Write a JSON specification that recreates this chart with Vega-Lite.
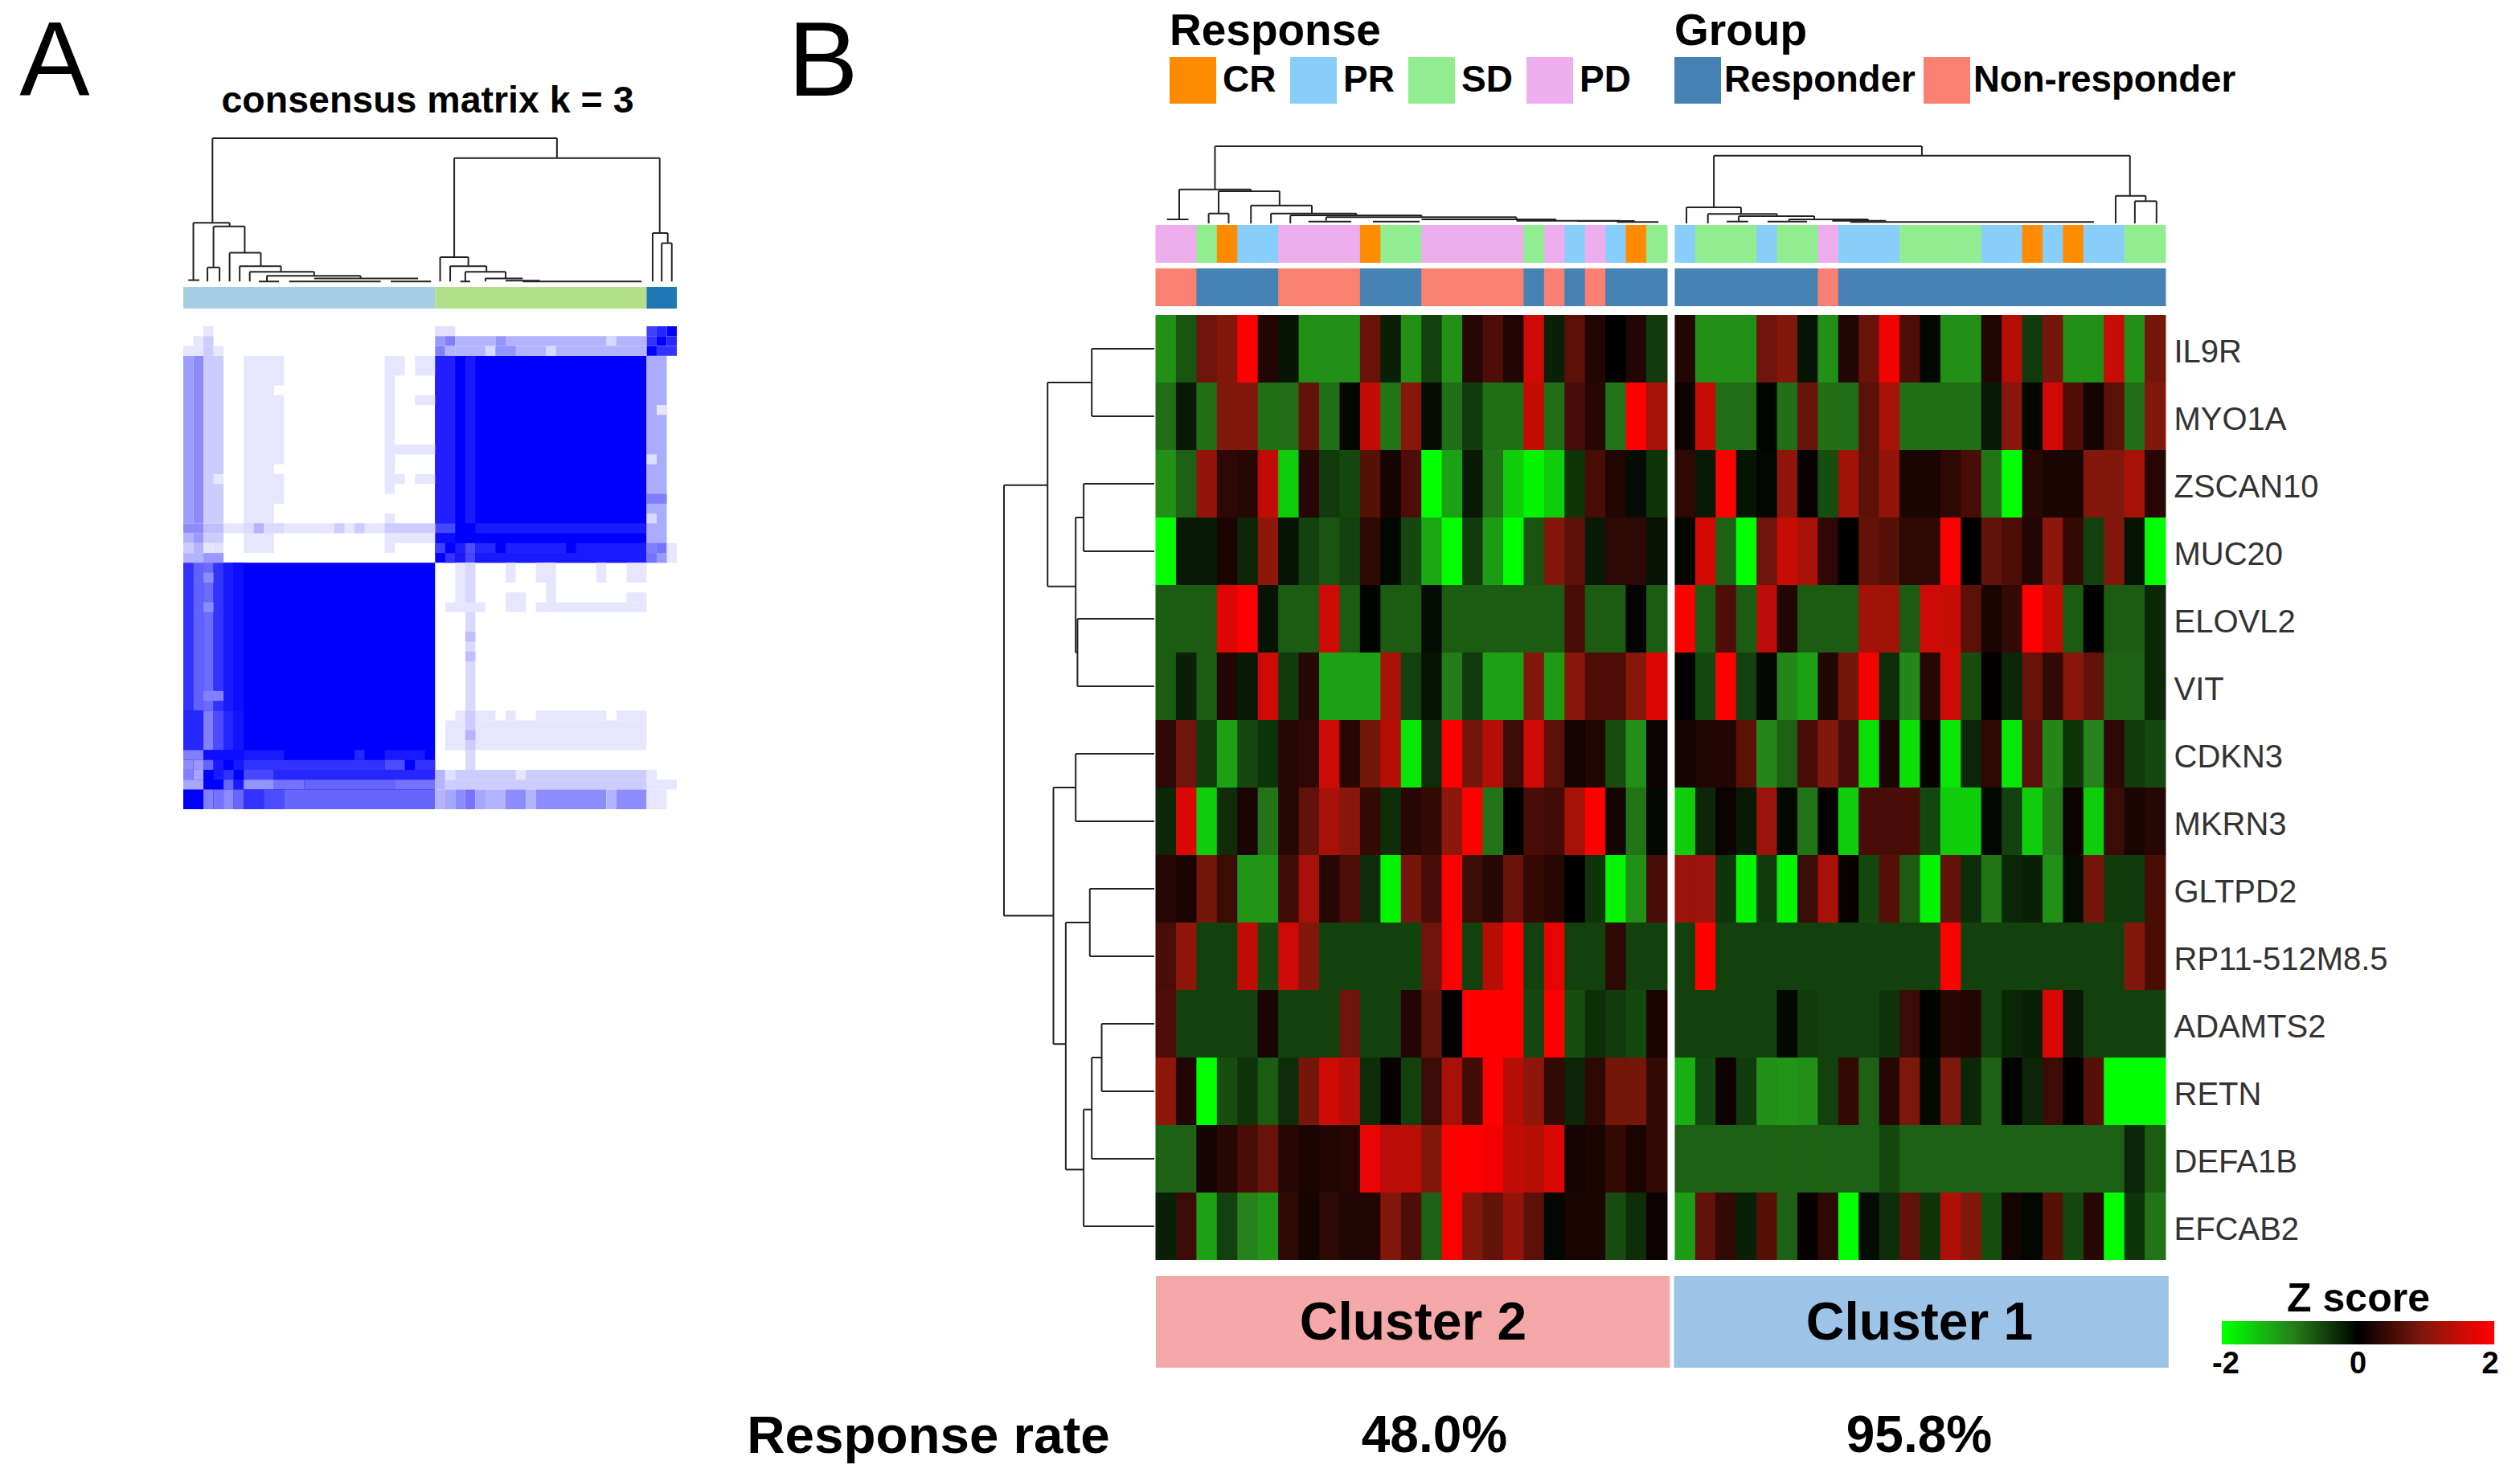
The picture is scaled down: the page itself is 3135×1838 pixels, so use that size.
{"$schema":"https://vega.github.io/schema/vega-lite/v6.json","width":3135,"height":1838,"padding":0,"autosize":{"type":"fit","contains":"padding"},"background":"white","config":{"view":{"stroke":null},"font":"Liberation Sans"},
"datasets":{
"heat":[
{"g":"IL9R","c":1,"z":-1.1},{"g":"IL9R","c":2,"z":-0.65},{"g":"IL9R","c":3,"z":0.85},{"g":"IL9R","c":4,"z":1},{"g":"IL9R","c":5,"z":2},{"g":"IL9R","c":6,"z":0.25},{"g":"IL9R","c":7,"z":-0.15},{"g":"IL9R","c":8,"z":-1.1},{"g":"IL9R","c":9,"z":-1.1},{"g":"IL9R","c":10,"z":-1.1},{"g":"IL9R","c":11,"z":0.8},{"g":"IL9R","c":12,"z":-0.25},{"g":"IL9R","c":13,"z":-1.1},{"g":"IL9R","c":14,"z":-0.5},{"g":"IL9R","c":15,"z":-1.1},{"g":"IL9R","c":16,"z":0.3},{"g":"IL9R","c":17,"z":0.6},{"g":"IL9R","c":18,"z":0.25},{"g":"IL9R","c":19,"z":1.6},{"g":"IL9R","c":20,"z":-0.25},{"g":"IL9R","c":21,"z":0.7},{"g":"IL9R","c":22,"z":0.25},{"g":"IL9R","c":23,"z":0},{"g":"IL9R","c":24,"z":0.25},{"g":"IL9R","c":25,"z":-0.45},
{"g":"IL9R","c":26,"z":0.25},{"g":"IL9R","c":27,"z":-1.1},{"g":"IL9R","c":28,"z":-1.1},{"g":"IL9R","c":29,"z":-1.1},{"g":"IL9R","c":30,"z":0.85},{"g":"IL9R","c":31,"z":1},{"g":"IL9R","c":32,"z":-0.15},{"g":"IL9R","c":33,"z":-1.1},{"g":"IL9R","c":34,"z":0.25},{"g":"IL9R","c":35,"z":0.8},{"g":"IL9R","c":36,"z":1.9},{"g":"IL9R","c":37,"z":0.6},{"g":"IL9R","c":38,"z":-0.05},{"g":"IL9R","c":39,"z":-1.1},{"g":"IL9R","c":40,"z":-1.1},{"g":"IL9R","c":41,"z":0.25},{"g":"IL9R","c":42,"z":1.4},{"g":"IL9R","c":43,"z":-0.45},{"g":"IL9R","c":44,"z":0.9},{"g":"IL9R","c":45,"z":-1.1},{"g":"IL9R","c":46,"z":-1.1},{"g":"IL9R","c":47,"z":1.55},{"g":"IL9R","c":48,"z":-1.1},{"g":"IL9R","c":49,"z":0.9},
{"g":"MYO1A","c":1,"z":-0.85},{"g":"MYO1A","c":2,"z":-0.2},{"g":"MYO1A","c":3,"z":-0.85},{"g":"MYO1A","c":4,"z":1},{"g":"MYO1A","c":5,"z":1},{"g":"MYO1A","c":6,"z":-0.85},{"g":"MYO1A","c":7,"z":-0.85},{"g":"MYO1A","c":8,"z":0.75},{"g":"MYO1A","c":9,"z":-0.85},{"g":"MYO1A","c":10,"z":-0.05},{"g":"MYO1A","c":11,"z":1.5},{"g":"MYO1A","c":12,"z":-0.9},{"g":"MYO1A","c":13,"z":1.05},{"g":"MYO1A","c":14,"z":-0.1},{"g":"MYO1A","c":15,"z":-0.85},{"g":"MYO1A","c":16,"z":-0.45},{"g":"MYO1A","c":17,"z":-0.85},{"g":"MYO1A","c":18,"z":-0.85},{"g":"MYO1A","c":19,"z":1.5},{"g":"MYO1A","c":20,"z":-0.85},{"g":"MYO1A","c":21,"z":0.55},{"g":"MYO1A","c":22,"z":0.3},{"g":"MYO1A","c":23,"z":-0.9},{"g":"MYO1A","c":24,"z":2},{"g":"MYO1A","c":25,"z":1.3},
{"g":"MYO1A","c":26,"z":0.1},{"g":"MYO1A","c":27,"z":1.55},{"g":"MYO1A","c":28,"z":-0.85},{"g":"MYO1A","c":29,"z":-0.85},{"g":"MYO1A","c":30,"z":-0.03},{"g":"MYO1A","c":31,"z":-0.85},{"g":"MYO1A","c":32,"z":0.8},{"g":"MYO1A","c":33,"z":-0.85},{"g":"MYO1A","c":34,"z":-0.85},{"g":"MYO1A","c":35,"z":0.7},{"g":"MYO1A","c":36,"z":1.3},{"g":"MYO1A","c":37,"z":-0.85},{"g":"MYO1A","c":38,"z":-0.85},{"g":"MYO1A","c":39,"z":-0.85},{"g":"MYO1A","c":40,"z":-0.85},{"g":"MYO1A","c":41,"z":-0.2},{"g":"MYO1A","c":42,"z":1.05},{"g":"MYO1A","c":43,"z":-0.05},{"g":"MYO1A","c":44,"z":1.6},{"g":"MYO1A","c":45,"z":0.6},{"g":"MYO1A","c":46,"z":0.15},{"g":"MYO1A","c":47,"z":0.7},{"g":"MYO1A","c":48,"z":-0.85},{"g":"MYO1A","c":49,"z":1},
{"g":"ZSCAN10","c":1,"z":-1.1},{"g":"ZSCAN10","c":2,"z":-0.75},{"g":"ZSCAN10","c":3,"z":1.15},{"g":"ZSCAN10","c":4,"z":0.35},{"g":"ZSCAN10","c":5,"z":0.3},{"g":"ZSCAN10","c":6,"z":1.5},{"g":"ZSCAN10","c":7,"z":-1.6},{"g":"ZSCAN10","c":8,"z":0.3},{"g":"ZSCAN10","c":9,"z":-0.45},{"g":"ZSCAN10","c":10,"z":-0.55},{"g":"ZSCAN10","c":11,"z":0.65},{"g":"ZSCAN10","c":12,"z":0.15},{"g":"ZSCAN10","c":13,"z":0.6},{"g":"ZSCAN10","c":14,"z":-2},{"g":"ZSCAN10","c":15,"z":-1.25},{"g":"ZSCAN10","c":16,"z":-0.2},{"g":"ZSCAN10","c":17,"z":-0.9},{"g":"ZSCAN10","c":18,"z":-1.6},{"g":"ZSCAN10","c":19,"z":-1.9},{"g":"ZSCAN10","c":20,"z":-1.6},{"g":"ZSCAN10","c":21,"z":-0.4},{"g":"ZSCAN10","c":22,"z":0.55},{"g":"ZSCAN10","c":23,"z":0.25},{"g":"ZSCAN10","c":24,"z":-0.1},{"g":"ZSCAN10","c":25,"z":-0.4},
{"g":"ZSCAN10","c":26,"z":0.35},{"g":"ZSCAN10","c":27,"z":-0.2},{"g":"ZSCAN10","c":28,"z":2},{"g":"ZSCAN10","c":29,"z":-0.15},{"g":"ZSCAN10","c":30,"z":-0.05},{"g":"ZSCAN10","c":31,"z":1.1},{"g":"ZSCAN10","c":32,"z":0.05},{"g":"ZSCAN10","c":33,"z":-0.6},{"g":"ZSCAN10","c":34,"z":1.25},{"g":"ZSCAN10","c":35,"z":0.7},{"g":"ZSCAN10","c":36,"z":1.15},{"g":"ZSCAN10","c":37,"z":0.2},{"g":"ZSCAN10","c":38,"z":0.2},{"g":"ZSCAN10","c":39,"z":0.35},{"g":"ZSCAN10","c":40,"z":0.55},{"g":"ZSCAN10","c":41,"z":-0.9},{"g":"ZSCAN10","c":42,"z":-2},{"g":"ZSCAN10","c":43,"z":0.3},{"g":"ZSCAN10","c":44,"z":0.2},{"g":"ZSCAN10","c":45,"z":0.2},{"g":"ZSCAN10","c":46,"z":1},{"g":"ZSCAN10","c":47,"z":1},{"g":"ZSCAN10","c":48,"z":1.3},{"g":"ZSCAN10","c":49,"z":0.3},
{"g":"MUC20","c":1,"z":-2},{"g":"MUC20","c":2,"z":-0.2},{"g":"MUC20","c":3,"z":-0.2},{"g":"MUC20","c":4,"z":0.2},{"g":"MUC20","c":5,"z":-0.3},{"g":"MUC20","c":6,"z":1.1},{"g":"MUC20","c":7,"z":-0.15},{"g":"MUC20","c":8,"z":-0.5},{"g":"MUC20","c":9,"z":-0.65},{"g":"MUC20","c":10,"z":-0.5},{"g":"MUC20","c":11,"z":0.35},{"g":"MUC20","c":12,"z":-0.05},{"g":"MUC20","c":13,"z":-0.55},{"g":"MUC20","c":14,"z":-1.3},{"g":"MUC20","c":15,"z":-2},{"g":"MUC20","c":16,"z":-0.45},{"g":"MUC20","c":17,"z":-1.2},{"g":"MUC20","c":18,"z":-2},{"g":"MUC20","c":19,"z":-0.65},{"g":"MUC20","c":20,"z":1},{"g":"MUC20","c":21,"z":0.7},{"g":"MUC20","c":22,"z":-0.2},{"g":"MUC20","c":23,"z":0.35},{"g":"MUC20","c":24,"z":0.35},{"g":"MUC20","c":25,"z":-0.15},
{"g":"MUC20","c":26,"z":-0.05},{"g":"MUC20","c":27,"z":1.65},{"g":"MUC20","c":28,"z":-0.75},{"g":"MUC20","c":29,"z":-2},{"g":"MUC20","c":30,"z":0.85},{"g":"MUC20","c":31,"z":1.55},{"g":"MUC20","c":32,"z":1.3},{"g":"MUC20","c":33,"z":0.35},{"g":"MUC20","c":34,"z":0},{"g":"MUC20","c":35,"z":0.75},{"g":"MUC20","c":36,"z":0.65},{"g":"MUC20","c":37,"z":0.35},{"g":"MUC20","c":38,"z":0.35},{"g":"MUC20","c":39,"z":2},{"g":"MUC20","c":40,"z":0},{"g":"MUC20","c":41,"z":0.75},{"g":"MUC20","c":42,"z":0.6},{"g":"MUC20","c":43,"z":0.25},{"g":"MUC20","c":44,"z":1.1},{"g":"MUC20","c":45,"z":0.4},{"g":"MUC20","c":46,"z":-0.5},{"g":"MUC20","c":47,"z":1},{"g":"MUC20","c":48,"z":-0.15},{"g":"MUC20","c":49,"z":-2},
{"g":"ELOVL2","c":1,"z":-0.7},{"g":"ELOVL2","c":2,"z":-0.7},{"g":"ELOVL2","c":3,"z":-0.7},{"g":"ELOVL2","c":4,"z":1.7},{"g":"ELOVL2","c":5,"z":2},{"g":"ELOVL2","c":6,"z":-0.15},{"g":"ELOVL2","c":7,"z":-0.7},{"g":"ELOVL2","c":8,"z":-0.7},{"g":"ELOVL2","c":9,"z":1.6},{"g":"ELOVL2","c":10,"z":-0.7},{"g":"ELOVL2","c":11,"z":-0.03},{"g":"ELOVL2","c":12,"z":-0.7},{"g":"ELOVL2","c":13,"z":-0.7},{"g":"ELOVL2","c":14,"z":-0.1},{"g":"ELOVL2","c":15,"z":-0.7},{"g":"ELOVL2","c":16,"z":-0.7},{"g":"ELOVL2","c":17,"z":-0.7},{"g":"ELOVL2","c":18,"z":-0.7},{"g":"ELOVL2","c":19,"z":-0.7},{"g":"ELOVL2","c":20,"z":-0.7},{"g":"ELOVL2","c":21,"z":0.55},{"g":"ELOVL2","c":22,"z":-0.7},{"g":"ELOVL2","c":23,"z":-0.7},{"g":"ELOVL2","c":24,"z":-0.03},{"g":"ELOVL2","c":25,"z":-0.7},
{"g":"ELOVL2","c":26,"z":2},{"g":"ELOVL2","c":27,"z":-0.7},{"g":"ELOVL2","c":28,"z":0.6},{"g":"ELOVL2","c":29,"z":-0.7},{"g":"ELOVL2","c":30,"z":1.45},{"g":"ELOVL2","c":31,"z":0.25},{"g":"ELOVL2","c":32,"z":-0.7},{"g":"ELOVL2","c":33,"z":-0.7},{"g":"ELOVL2","c":34,"z":-0.7},{"g":"ELOVL2","c":35,"z":1.25},{"g":"ELOVL2","c":36,"z":1.25},{"g":"ELOVL2","c":37,"z":-0.7},{"g":"ELOVL2","c":38,"z":1.6},{"g":"ELOVL2","c":39,"z":1.55},{"g":"ELOVL2","c":40,"z":0.7},{"g":"ELOVL2","c":41,"z":0.2},{"g":"ELOVL2","c":42,"z":0.4},{"g":"ELOVL2","c":43,"z":2},{"g":"ELOVL2","c":44,"z":1.5},{"g":"ELOVL2","c":45,"z":-0.7},{"g":"ELOVL2","c":46,"z":0},{"g":"ELOVL2","c":47,"z":-0.7},{"g":"ELOVL2","c":48,"z":-0.7},{"g":"ELOVL2","c":49,"z":-0.3},
{"g":"VIT","c":1,"z":-0.7},{"g":"VIT","c":2,"z":-0.25},{"g":"VIT","c":3,"z":-0.7},{"g":"VIT","c":4,"z":0.25},{"g":"VIT","c":5,"z":-0.2},{"g":"VIT","c":6,"z":1.6},{"g":"VIT","c":7,"z":-0.45},{"g":"VIT","c":8,"z":0.3},{"g":"VIT","c":9,"z":-1.25},{"g":"VIT","c":10,"z":-1.25},{"g":"VIT","c":11,"z":-1.25},{"g":"VIT","c":12,"z":1.3},{"g":"VIT","c":13,"z":-0.5},{"g":"VIT","c":14,"z":-0.15},{"g":"VIT","c":15,"z":-0.95},{"g":"VIT","c":16,"z":-0.45},{"g":"VIT","c":17,"z":-1.25},{"g":"VIT","c":18,"z":-1.25},{"g":"VIT","c":19,"z":1},{"g":"VIT","c":20,"z":-1.2},{"g":"VIT","c":21,"z":1.05},{"g":"VIT","c":22,"z":0.6},{"g":"VIT","c":23,"z":0.6},{"g":"VIT","c":24,"z":1.05},{"g":"VIT","c":25,"z":1.7},
{"g":"VIT","c":26,"z":0.02},{"g":"VIT","c":27,"z":-0.55},{"g":"VIT","c":28,"z":2},{"g":"VIT","c":29,"z":-0.5},{"g":"VIT","c":30,"z":-0.05},{"g":"VIT","c":31,"z":-1.05},{"g":"VIT","c":32,"z":-1.25},{"g":"VIT","c":33,"z":0.25},{"g":"VIT","c":34,"z":0.9},{"g":"VIT","c":35,"z":1.9},{"g":"VIT","c":36,"z":-0.35},{"g":"VIT","c":37,"z":-1.05},{"g":"VIT","c":38,"z":0.3},{"g":"VIT","c":39,"z":1.6},{"g":"VIT","c":40,"z":-0.6},{"g":"VIT","c":41,"z":0.03},{"g":"VIT","c":42,"z":-0.3},{"g":"VIT","c":43,"z":0.8},{"g":"VIT","c":44,"z":0.4},{"g":"VIT","c":45,"z":1.05},{"g":"VIT","c":46,"z":0.75},{"g":"VIT","c":47,"z":-0.75},{"g":"VIT","c":48,"z":-0.75},{"g":"VIT","c":49,"z":-0.3},
{"g":"CDKN3","c":1,"z":0.35},{"g":"CDKN3","c":2,"z":0.85},{"g":"CDKN3","c":3,"z":-0.45},{"g":"CDKN3","c":4,"z":-1.25},{"g":"CDKN3","c":5,"z":-0.55},{"g":"CDKN3","c":6,"z":-0.4},{"g":"CDKN3","c":7,"z":0.3},{"g":"CDKN3","c":8,"z":0.35},{"g":"CDKN3","c":9,"z":1.6},{"g":"CDKN3","c":10,"z":0.3},{"g":"CDKN3","c":11,"z":0.9},{"g":"CDKN3","c":12,"z":1.4},{"g":"CDKN3","c":13,"z":-1.8},{"g":"CDKN3","c":14,"z":-0.35},{"g":"CDKN3","c":15,"z":2},{"g":"CDKN3","c":16,"z":0.9},{"g":"CDKN3","c":17,"z":1.4},{"g":"CDKN3","c":18,"z":0.45},{"g":"CDKN3","c":19,"z":1.6},{"g":"CDKN3","c":20,"z":0.7},{"g":"CDKN3","c":21,"z":0.15},{"g":"CDKN3","c":22,"z":0.25},{"g":"CDKN3","c":23,"z":-0.6},{"g":"CDKN3","c":24,"z":-1.1},{"g":"CDKN3","c":25,"z":0.1},
{"g":"CDKN3","c":26,"z":0.15},{"g":"CDKN3","c":27,"z":0.25},{"g":"CDKN3","c":28,"z":0.25},{"g":"CDKN3","c":29,"z":0.7},{"g":"CDKN3","c":30,"z":-1.05},{"g":"CDKN3","c":31,"z":-0.75},{"g":"CDKN3","c":32,"z":0.55},{"g":"CDKN3","c":33,"z":1},{"g":"CDKN3","c":34,"z":0.55},{"g":"CDKN3","c":35,"z":-1.75},{"g":"CDKN3","c":36,"z":0.2},{"g":"CDKN3","c":37,"z":-1.75},{"g":"CDKN3","c":38,"z":0.05},{"g":"CDKN3","c":39,"z":-1.8},{"g":"CDKN3","c":40,"z":-0.3},{"g":"CDKN3","c":41,"z":0.35},{"g":"CDKN3","c":42,"z":-1.8},{"g":"CDKN3","c":43,"z":0.7},{"g":"CDKN3","c":44,"z":-1.05},{"g":"CDKN3","c":45,"z":-0.4},{"g":"CDKN3","c":46,"z":-1},{"g":"CDKN3","c":47,"z":0.35},{"g":"CDKN3","c":48,"z":-0.45},{"g":"CDKN3","c":49,"z":-0.55},
{"g":"MKRN3","c":1,"z":-0.3},{"g":"MKRN3","c":2,"z":1.7},{"g":"MKRN3","c":3,"z":-1.6},{"g":"MKRN3","c":4,"z":-0.35},{"g":"MKRN3","c":5,"z":0.2},{"g":"MKRN3","c":6,"z":-0.9},{"g":"MKRN3","c":7,"z":0.3},{"g":"MKRN3","c":8,"z":0.75},{"g":"MKRN3","c":9,"z":1.3},{"g":"MKRN3","c":10,"z":1.05},{"g":"MKRN3","c":11,"z":0.4},{"g":"MKRN3","c":12,"z":-0.35},{"g":"MKRN3","c":13,"z":0.3},{"g":"MKRN3","c":14,"z":0.4},{"g":"MKRN3","c":15,"z":1.1},{"g":"MKRN3","c":16,"z":2},{"g":"MKRN3","c":17,"z":-0.9},{"g":"MKRN3","c":18,"z":0},{"g":"MKRN3","c":19,"z":0.55},{"g":"MKRN3","c":20,"z":0.5},{"g":"MKRN3","c":21,"z":1.3},{"g":"MKRN3","c":22,"z":2},{"g":"MKRN3","c":23,"z":0.15},{"g":"MKRN3","c":24,"z":-0.9},{"g":"MKRN3","c":25,"z":-0.05},
{"g":"MKRN3","c":26,"z":-1.6},{"g":"MKRN3","c":27,"z":-0.3},{"g":"MKRN3","c":28,"z":0.07},{"g":"MKRN3","c":29,"z":-0.2},{"g":"MKRN3","c":30,"z":1.2},{"g":"MKRN3","c":31,"z":-0.05},{"g":"MKRN3","c":32,"z":-0.9},{"g":"MKRN3","c":33,"z":0.04},{"g":"MKRN3","c":34,"z":-1.6},{"g":"MKRN3","c":35,"z":0.55},{"g":"MKRN3","c":36,"z":0.55},{"g":"MKRN3","c":37,"z":0.55},{"g":"MKRN3","c":38,"z":-0.55},{"g":"MKRN3","c":39,"z":-1.6},{"g":"MKRN3","c":40,"z":-1.6},{"g":"MKRN3","c":41,"z":-0.05},{"g":"MKRN3","c":42,"z":-0.5},{"g":"MKRN3","c":43,"z":-1.6},{"g":"MKRN3","c":44,"z":-0.95},{"g":"MKRN3","c":45,"z":0.1},{"g":"MKRN3","c":46,"z":-1.6},{"g":"MKRN3","c":47,"z":0.45},{"g":"MKRN3","c":48,"z":0.2},{"g":"MKRN3","c":49,"z":0.3},
{"g":"GLTPD2","c":1,"z":0.3},{"g":"GLTPD2","c":2,"z":0.2},{"g":"GLTPD2","c":3,"z":0.9},{"g":"GLTPD2","c":4,"z":0.45},{"g":"GLTPD2","c":5,"z":-1.15},{"g":"GLTPD2","c":6,"z":-1.15},{"g":"GLTPD2","c":7,"z":0.5},{"g":"GLTPD2","c":8,"z":1.3},{"g":"GLTPD2","c":9,"z":0.3},{"g":"GLTPD2","c":10,"z":0.6},{"g":"GLTPD2","c":11,"z":-0.35},{"g":"GLTPD2","c":12,"z":-1.9},{"g":"GLTPD2","c":13,"z":0.9},{"g":"GLTPD2","c":14,"z":0.55},{"g":"GLTPD2","c":15,"z":2},{"g":"GLTPD2","c":16,"z":0.45},{"g":"GLTPD2","c":17,"z":0.3},{"g":"GLTPD2","c":18,"z":0.8},{"g":"GLTPD2","c":19,"z":0.4},{"g":"GLTPD2","c":20,"z":0.3},{"g":"GLTPD2","c":21,"z":0},{"g":"GLTPD2","c":22,"z":-0.4},{"g":"GLTPD2","c":23,"z":-1.9},{"g":"GLTPD2","c":24,"z":-1.1},{"g":"GLTPD2","c":25,"z":0.55},
{"g":"GLTPD2","c":26,"z":1.2},{"g":"GLTPD2","c":27,"z":1.2},{"g":"GLTPD2","c":28,"z":-0.4},{"g":"GLTPD2","c":29,"z":-1.9},{"g":"GLTPD2","c":30,"z":-0.45},{"g":"GLTPD2","c":31,"z":-1.9},{"g":"GLTPD2","c":32,"z":0.45},{"g":"GLTPD2","c":33,"z":1.3},{"g":"GLTPD2","c":34,"z":0.05},{"g":"GLTPD2","c":35,"z":-0.55},{"g":"GLTPD2","c":36,"z":0.65},{"g":"GLTPD2","c":37,"z":-0.7},{"g":"GLTPD2","c":38,"z":-1.9},{"g":"GLTPD2","c":39,"z":0.75},{"g":"GLTPD2","c":40,"z":-0.35},{"g":"GLTPD2","c":41,"z":-0.9},{"g":"GLTPD2","c":42,"z":-0.3},{"g":"GLTPD2","c":43,"z":-0.25},{"g":"GLTPD2","c":44,"z":-1.1},{"g":"GLTPD2","c":45,"z":-0.1},{"g":"GLTPD2","c":46,"z":0.9},{"g":"GLTPD2","c":47,"z":-0.45},{"g":"GLTPD2","c":48,"z":-0.45},{"g":"GLTPD2","c":49,"z":0.55},
{"g":"RP11-512M8.5","c":1,"z":0.55},{"g":"RP11-512M8.5","c":2,"z":1.1},{"g":"RP11-512M8.5","c":3,"z":-0.5},{"g":"RP11-512M8.5","c":4,"z":-0.5},{"g":"RP11-512M8.5","c":5,"z":1.5},{"g":"RP11-512M8.5","c":6,"z":-0.55},{"g":"RP11-512M8.5","c":7,"z":1.6},{"g":"RP11-512M8.5","c":8,"z":1},{"g":"RP11-512M8.5","c":9,"z":-0.5},{"g":"RP11-512M8.5","c":10,"z":-0.5},{"g":"RP11-512M8.5","c":11,"z":-0.5},{"g":"RP11-512M8.5","c":12,"z":-0.5},{"g":"RP11-512M8.5","c":13,"z":-0.5},{"g":"RP11-512M8.5","c":14,"z":0.85},{"g":"RP11-512M8.5","c":15,"z":2},{"g":"RP11-512M8.5","c":16,"z":-0.5},{"g":"RP11-512M8.5","c":17,"z":1.4},{"g":"RP11-512M8.5","c":18,"z":2},{"g":"RP11-512M8.5","c":19,"z":-0.5},{"g":"RP11-512M8.5","c":20,"z":1.8},{"g":"RP11-512M8.5","c":21,"z":-0.5},{"g":"RP11-512M8.5","c":22,"z":-0.5},{"g":"RP11-512M8.5","c":23,"z":0.35},{"g":"RP11-512M8.5","c":24,"z":-0.5},{"g":"RP11-512M8.5","c":25,"z":-0.5},
{"g":"RP11-512M8.5","c":26,"z":-0.5},{"g":"RP11-512M8.5","c":27,"z":2},{"g":"RP11-512M8.5","c":28,"z":-0.5},{"g":"RP11-512M8.5","c":29,"z":-0.5},{"g":"RP11-512M8.5","c":30,"z":-0.5},{"g":"RP11-512M8.5","c":31,"z":-0.5},{"g":"RP11-512M8.5","c":32,"z":-0.5},{"g":"RP11-512M8.5","c":33,"z":-0.5},{"g":"RP11-512M8.5","c":34,"z":-0.5},{"g":"RP11-512M8.5","c":35,"z":-0.5},{"g":"RP11-512M8.5","c":36,"z":-0.5},{"g":"RP11-512M8.5","c":37,"z":-0.5},{"g":"RP11-512M8.5","c":38,"z":-0.5},{"g":"RP11-512M8.5","c":39,"z":2},{"g":"RP11-512M8.5","c":40,"z":-0.5},{"g":"RP11-512M8.5","c":41,"z":-0.5},{"g":"RP11-512M8.5","c":42,"z":-0.5},{"g":"RP11-512M8.5","c":43,"z":-0.5},{"g":"RP11-512M8.5","c":44,"z":-0.5},{"g":"RP11-512M8.5","c":45,"z":-0.5},{"g":"RP11-512M8.5","c":46,"z":-0.5},{"g":"RP11-512M8.5","c":47,"z":-0.5},{"g":"RP11-512M8.5","c":48,"z":1},{"g":"RP11-512M8.5","c":49,"z":0.55},
{"g":"ADAMTS2","c":1,"z":0.6},{"g":"ADAMTS2","c":2,"z":-0.5},{"g":"ADAMTS2","c":3,"z":-0.5},{"g":"ADAMTS2","c":4,"z":-0.5},{"g":"ADAMTS2","c":5,"z":-0.5},{"g":"ADAMTS2","c":6,"z":0.2},{"g":"ADAMTS2","c":7,"z":-0.5},{"g":"ADAMTS2","c":8,"z":-0.5},{"g":"ADAMTS2","c":9,"z":-0.5},{"g":"ADAMTS2","c":10,"z":0.85},{"g":"ADAMTS2","c":11,"z":-0.5},{"g":"ADAMTS2","c":12,"z":-0.5},{"g":"ADAMTS2","c":13,"z":0.25},{"g":"ADAMTS2","c":14,"z":0.75},{"g":"ADAMTS2","c":15,"z":0},{"g":"ADAMTS2","c":16,"z":2},{"g":"ADAMTS2","c":17,"z":2},{"g":"ADAMTS2","c":18,"z":2},{"g":"ADAMTS2","c":19,"z":-0.55},{"g":"ADAMTS2","c":20,"z":2},{"g":"ADAMTS2","c":21,"z":-0.6},{"g":"ADAMTS2","c":22,"z":-0.35},{"g":"ADAMTS2","c":23,"z":-0.45},{"g":"ADAMTS2","c":24,"z":-0.55},{"g":"ADAMTS2","c":25,"z":0.2},
{"g":"ADAMTS2","c":26,"z":-0.5},{"g":"ADAMTS2","c":27,"z":-0.5},{"g":"ADAMTS2","c":28,"z":-0.5},{"g":"ADAMTS2","c":29,"z":-0.5},{"g":"ADAMTS2","c":30,"z":-0.5},{"g":"ADAMTS2","c":31,"z":-0.05},{"g":"ADAMTS2","c":32,"z":-0.45},{"g":"ADAMTS2","c":33,"z":-0.5},{"g":"ADAMTS2","c":34,"z":-0.5},{"g":"ADAMTS2","c":35,"z":-0.5},{"g":"ADAMTS2","c":36,"z":-0.4},{"g":"ADAMTS2","c":37,"z":0.45},{"g":"ADAMTS2","c":38,"z":-0.03},{"g":"ADAMTS2","c":39,"z":0.3},{"g":"ADAMTS2","c":40,"z":0.25},{"g":"ADAMTS2","c":41,"z":-0.5},{"g":"ADAMTS2","c":42,"z":-0.3},{"g":"ADAMTS2","c":43,"z":-0.25},{"g":"ADAMTS2","c":44,"z":1.7},{"g":"ADAMTS2","c":45,"z":-0.2},{"g":"ADAMTS2","c":46,"z":-0.5},{"g":"ADAMTS2","c":47,"z":-0.5},{"g":"ADAMTS2","c":48,"z":-0.5},{"g":"ADAMTS2","c":49,"z":-0.5},
{"g":"RETN","c":1,"z":1.1},{"g":"RETN","c":2,"z":0.25},{"g":"RETN","c":3,"z":-2},{"g":"RETN","c":4,"z":-0.6},{"g":"RETN","c":5,"z":-0.4},{"g":"RETN","c":6,"z":-0.7},{"g":"RETN","c":7,"z":-0.35},{"g":"RETN","c":8,"z":0.9},{"g":"RETN","c":9,"z":1.6},{"g":"RETN","c":10,"z":1.4},{"g":"RETN","c":11,"z":-0.35},{"g":"RETN","c":12,"z":0.05},{"g":"RETN","c":13,"z":-0.5},{"g":"RETN","c":14,"z":0.45},{"g":"RETN","c":15,"z":1.3},{"g":"RETN","c":16,"z":0.5},{"g":"RETN","c":17,"z":2},{"g":"RETN","c":18,"z":1.4},{"g":"RETN","c":19,"z":1.1},{"g":"RETN","c":20,"z":0.4},{"g":"RETN","c":21,"z":-0.3},{"g":"RETN","c":22,"z":0.35},{"g":"RETN","c":23,"z":0.9},{"g":"RETN","c":24,"z":0.9},{"g":"RETN","c":25,"z":0.4},
{"g":"RETN","c":26,"z":-1.35},{"g":"RETN","c":27,"z":-0.55},{"g":"RETN","c":28,"z":0.1},{"g":"RETN","c":29,"z":-0.45},{"g":"RETN","c":30,"z":-1.1},{"g":"RETN","c":31,"z":-1.15},{"g":"RETN","c":32,"z":-1.1},{"g":"RETN","c":33,"z":-0.5},{"g":"RETN","c":34,"z":0.4},{"g":"RETN","c":35,"z":-0.75},{"g":"RETN","c":36,"z":0.3},{"g":"RETN","c":37,"z":0.95},{"g":"RETN","c":38,"z":-0.08},{"g":"RETN","c":39,"z":0.95},{"g":"RETN","c":40,"z":-0.3},{"g":"RETN","c":41,"z":-0.75},{"g":"RETN","c":42,"z":-0.03},{"g":"RETN","c":43,"z":-0.3},{"g":"RETN","c":44,"z":0.45},{"g":"RETN","c":45,"z":0.02},{"g":"RETN","c":46,"z":0.65},{"g":"RETN","c":47,"z":-2},{"g":"RETN","c":48,"z":-2},{"g":"RETN","c":49,"z":-2},
{"g":"DEFA1B","c":1,"z":-0.75},{"g":"DEFA1B","c":2,"z":-0.75},{"g":"DEFA1B","c":3,"z":0.15},{"g":"DEFA1B","c":4,"z":0.3},{"g":"DEFA1B","c":5,"z":0.55},{"g":"DEFA1B","c":6,"z":0.8},{"g":"DEFA1B","c":7,"z":0.3},{"g":"DEFA1B","c":8,"z":0.2},{"g":"DEFA1B","c":9,"z":0.25},{"g":"DEFA1B","c":10,"z":0.3},{"g":"DEFA1B","c":11,"z":1.8},{"g":"DEFA1B","c":12,"z":1.45},{"g":"DEFA1B","c":13,"z":1.45},{"g":"DEFA1B","c":14,"z":1},{"g":"DEFA1B","c":15,"z":2},{"g":"DEFA1B","c":16,"z":2},{"g":"DEFA1B","c":17,"z":1.9},{"g":"DEFA1B","c":18,"z":1.5},{"g":"DEFA1B","c":19,"z":1.4},{"g":"DEFA1B","c":20,"z":1.7},{"g":"DEFA1B","c":21,"z":0.15},{"g":"DEFA1B","c":22,"z":0.2},{"g":"DEFA1B","c":23,"z":0.4},{"g":"DEFA1B","c":24,"z":0.2},{"g":"DEFA1B","c":25,"z":0.4},
{"g":"DEFA1B","c":26,"z":-0.75},{"g":"DEFA1B","c":27,"z":-0.75},{"g":"DEFA1B","c":28,"z":-0.75},{"g":"DEFA1B","c":29,"z":-0.75},{"g":"DEFA1B","c":30,"z":-0.75},{"g":"DEFA1B","c":31,"z":-0.75},{"g":"DEFA1B","c":32,"z":-0.75},{"g":"DEFA1B","c":33,"z":-0.75},{"g":"DEFA1B","c":34,"z":-0.75},{"g":"DEFA1B","c":35,"z":-0.75},{"g":"DEFA1B","c":36,"z":-0.55},{"g":"DEFA1B","c":37,"z":-0.75},{"g":"DEFA1B","c":38,"z":-0.75},{"g":"DEFA1B","c":39,"z":-0.75},{"g":"DEFA1B","c":40,"z":-0.75},{"g":"DEFA1B","c":41,"z":-0.75},{"g":"DEFA1B","c":42,"z":-0.75},{"g":"DEFA1B","c":43,"z":-0.75},{"g":"DEFA1B","c":44,"z":-0.75},{"g":"DEFA1B","c":45,"z":-0.75},{"g":"DEFA1B","c":46,"z":-0.75},{"g":"DEFA1B","c":47,"z":-0.75},{"g":"DEFA1B","c":48,"z":-0.3},{"g":"DEFA1B","c":49,"z":-0.7},
{"g":"EFCAB2","c":1,"z":-0.25},{"g":"EFCAB2","c":2,"z":0.45},{"g":"EFCAB2","c":3,"z":-1.25},{"g":"EFCAB2","c":4,"z":-0.5},{"g":"EFCAB2","c":5,"z":-1},{"g":"EFCAB2","c":6,"z":-1.15},{"g":"EFCAB2","c":7,"z":0.35},{"g":"EFCAB2","c":8,"z":0.15},{"g":"EFCAB2","c":9,"z":0.35},{"g":"EFCAB2","c":10,"z":0.25},{"g":"EFCAB2","c":11,"z":0.25},{"g":"EFCAB2","c":12,"z":1},{"g":"EFCAB2","c":13,"z":0.6},{"g":"EFCAB2","c":14,"z":-0.75},{"g":"EFCAB2","c":15,"z":2},{"g":"EFCAB2","c":16,"z":1},{"g":"EFCAB2","c":17,"z":0.75},{"g":"EFCAB2","c":18,"z":1.15},{"g":"EFCAB2","c":19,"z":0.7},{"g":"EFCAB2","c":20,"z":-0.05},{"g":"EFCAB2","c":21,"z":0.2},{"g":"EFCAB2","c":22,"z":0.2},{"g":"EFCAB2","c":23,"z":-0.6},{"g":"EFCAB2","c":24,"z":-0.35},{"g":"EFCAB2","c":25,"z":0.1},
{"g":"EFCAB2","c":26,"z":-1.2},{"g":"EFCAB2","c":27,"z":0.75},{"g":"EFCAB2","c":28,"z":0.4},{"g":"EFCAB2","c":29,"z":-0.25},{"g":"EFCAB2","c":30,"z":0.65},{"g":"EFCAB2","c":31,"z":-0.75},{"g":"EFCAB2","c":32,"z":0.05},{"g":"EFCAB2","c":33,"z":0.35},{"g":"EFCAB2","c":34,"z":-2},{"g":"EFCAB2","c":35,"z":-0.1},{"g":"EFCAB2","c":36,"z":-0.35},{"g":"EFCAB2","c":37,"z":0.75},{"g":"EFCAB2","c":38,"z":-0.4},{"g":"EFCAB2","c":39,"z":1.35},{"g":"EFCAB2","c":40,"z":1},{"g":"EFCAB2","c":41,"z":-0.6},{"g":"EFCAB2","c":42,"z":0.15},{"g":"EFCAB2","c":43,"z":-0.05},{"g":"EFCAB2","c":44,"z":0.65},{"g":"EFCAB2","c":45,"z":-0.55},{"g":"EFCAB2","c":46,"z":0.3},{"g":"EFCAB2","c":47,"z":-2},{"g":"EFCAB2","c":48,"z":-0.4},{"g":"EFCAB2","c":49,"z":-0.9}
],
"samples":[
{"c":1,"r":"PD","s":"Non-responder"},{"c":2,"r":"PD","s":"Non-responder"},{"c":3,"r":"SD","s":"Responder"},{"c":4,"r":"CR","s":"Responder"},{"c":5,"r":"PR","s":"Responder"},{"c":6,"r":"PR","s":"Responder"},{"c":7,"r":"PD","s":"Non-responder"},{"c":8,"r":"PD","s":"Non-responder"},{"c":9,"r":"PD","s":"Non-responder"},{"c":10,"r":"PD","s":"Non-responder"},{"c":11,"r":"CR","s":"Responder"},{"c":12,"r":"SD","s":"Responder"},{"c":13,"r":"SD","s":"Responder"},{"c":14,"r":"PD","s":"Non-responder"},{"c":15,"r":"PD","s":"Non-responder"},{"c":16,"r":"PD","s":"Non-responder"},{"c":17,"r":"PD","s":"Non-responder"},{"c":18,"r":"PD","s":"Non-responder"},{"c":19,"r":"SD","s":"Responder"},{"c":20,"r":"PD","s":"Non-responder"},{"c":21,"r":"PR","s":"Responder"},{"c":22,"r":"PD","s":"Non-responder"},{"c":23,"r":"PR","s":"Responder"},{"c":24,"r":"CR","s":"Responder"},{"c":25,"r":"SD","s":"Responder"},
{"c":26,"r":"PR","s":"Responder"},{"c":27,"r":"SD","s":"Responder"},{"c":28,"r":"SD","s":"Responder"},{"c":29,"r":"SD","s":"Responder"},{"c":30,"r":"PR","s":"Responder"},{"c":31,"r":"SD","s":"Responder"},{"c":32,"r":"SD","s":"Responder"},{"c":33,"r":"PD","s":"Non-responder"},{"c":34,"r":"PR","s":"Responder"},{"c":35,"r":"PR","s":"Responder"},{"c":36,"r":"PR","s":"Responder"},{"c":37,"r":"SD","s":"Responder"},{"c":38,"r":"SD","s":"Responder"},{"c":39,"r":"SD","s":"Responder"},{"c":40,"r":"SD","s":"Responder"},{"c":41,"r":"PR","s":"Responder"},{"c":42,"r":"PR","s":"Responder"},{"c":43,"r":"CR","s":"Responder"},{"c":44,"r":"PR","s":"Responder"},{"c":45,"r":"CR","s":"Responder"},{"c":46,"r":"PR","s":"Responder"},{"c":47,"r":"PR","s":"Responder"},{"c":48,"r":"SD","s":"Responder"},{"c":49,"r":"SD","s":"Responder"}
],
"matrix":[
{"c1":25,"c2":46,"r1":3,"r2":24,"v":1},{"c1":25,"c2":27,"r1":3,"r2":20,"v":0.88},{"c1":28,"c2":29,"r1":3,"r2":20,"v":0.9},{"c1":25,"c2":27,"r1":20,"r2":21,"v":0.72},{"c1":29,"c2":46,"r1":20,"r2":21,"v":0.9},{"c1":25,"c2":27,"r1":21,"r2":22,"v":0.95},
{"c1":25,"c2":26,"r1":22,"r2":23,"v":0.75},{"c1":27,"c2":28,"r1":22,"r2":23,"v":0.88},{"c1":28,"c2":29,"r1":22,"r2":23,"v":0.7},{"c1":29,"c2":31,"r1":22,"r2":23,"v":0.85},{"c1":32,"c2":38,"r1":22,"r2":23,"v":0.88},{"c1":39,"c2":46,"r1":22,"r2":23,"v":0.9},
{"c1":26,"c2":27,"r1":23,"r2":24,"v":0.8},{"c1":27,"c2":28,"r1":23,"r2":24,"v":0.9},{"c1":28,"c2":29,"r1":23,"r2":24,"v":0.72},{"c1":29,"c2":46,"r1":23,"r2":24,"v":0.9},
{"c1":0,"c2":25,"r1":24,"r2":49,"v":1},{"c1":0,"c2":1,"r1":24,"r2":39,"v":0.8},{"c1":1,"c2":2,"r1":24,"r2":39,"v":0.62},{"c1":2,"c2":3,"r1":24,"r2":39,"v":0.58},{"c1":3,"c2":4,"r1":24,"r2":39,"v":0.8},{"c1":4,"c2":5,"r1":24,"r2":39,"v":0.9},{"c1":5,"c2":6,"r1":24,"r2":39,"v":0.95},{"c1":2,"c2":3,"r1":25,"r2":26,"v":0.45},{"c1":2,"c2":3,"r1":28,"r2":29,"v":0.45},{"c1":2,"c2":4,"r1":37,"r2":38,"v":0.5},
{"c1":0,"c2":2,"r1":39,"r2":43,"v":0.85},{"c1":2,"c2":3,"r1":39,"r2":43,"v":0.5},{"c1":3,"c2":4,"r1":39,"r2":43,"v":0.7},{"c1":4,"c2":5,"r1":39,"r2":43,"v":0.85},{"c1":5,"c2":6,"r1":39,"r2":43,"v":0.92},
{"c1":0,"c2":2,"r1":43,"r2":44,"v":0.5},{"c1":2,"c2":6,"r1":43,"r2":44,"v":0.95},{"c1":6,"c2":10,"r1":43,"r2":44,"v":0.9},{"c1":17,"c2":18,"r1":43,"r2":44,"v":0.85},{"c1":20,"c2":24,"r1":43,"r2":44,"v":0.9},
{"c1":0,"c2":1,"r1":44,"r2":45,"v":0.45},{"c1":1,"c2":2,"r1":44,"r2":45,"v":0.4},{"c1":2,"c2":3,"r1":44,"r2":45,"v":0.6},{"c1":3,"c2":4,"r1":44,"r2":45,"v":0.9},{"c1":5,"c2":6,"r1":44,"r2":45,"v":0.9},{"c1":6,"c2":20,"r1":44,"r2":45,"v":0.8},{"c1":20,"c2":22,"r1":44,"r2":45,"v":0.7},{"c1":23,"c2":25,"r1":44,"r2":45,"v":0.8},
{"c1":0,"c2":1,"r1":45,"r2":46,"v":0.5},{"c1":1,"c2":2,"r1":45,"r2":46,"v":0.35},{"c1":3,"c2":4,"r1":45,"r2":46,"v":0.9},{"c1":4,"c2":5,"r1":45,"r2":46,"v":0.8},{"c1":6,"c2":9,"r1":45,"r2":46,"v":0.72},{"c1":9,"c2":25,"r1":45,"r2":46,"v":0.85},
{"c1":0,"c2":2,"r1":46,"r2":47,"v":0.35},{"c1":4,"c2":5,"r1":46,"r2":47,"v":0.6},{"c1":5,"c2":6,"r1":46,"r2":47,"v":0.9},{"c1":6,"c2":9,"r1":46,"r2":47,"v":0.42},{"c1":9,"c2":12,"r1":46,"r2":47,"v":0.55},{"c1":12,"c2":21,"r1":46,"r2":47,"v":0.6},{"c1":21,"c2":25,"r1":46,"r2":47,"v":0.55},
{"c1":2,"c2":3,"r1":47,"r2":49,"v":0.5},{"c1":3,"c2":4,"r1":47,"r2":49,"v":0.55},{"c1":4,"c2":5,"r1":47,"r2":49,"v":0.45},{"c1":5,"c2":6,"r1":47,"r2":49,"v":0.6},{"c1":6,"c2":8,"r1":47,"r2":49,"v":0.8},{"c1":8,"c2":10,"r1":47,"r2":49,"v":0.7},{"c1":10,"c2":25,"r1":47,"r2":49,"v":0.6},
{"c1":0,"c2":1,"r1":3,"r2":20,"v":0.38},{"c1":1,"c2":2,"r1":3,"r2":20,"v":0.45},{"c1":2,"c2":4,"r1":3,"r2":20,"v":0.2},{"c1":3,"c2":4,"r1":15,"r2":16,"v":0.1},
{"c1":6,"c2":9,"r1":3,"r2":23,"v":0.1},{"c1":9,"c2":10,"r1":3,"r2":6,"v":0.1},{"c1":9,"c2":10,"r1":7,"r2":14,"v":0.1},{"c1":9,"c2":10,"r1":15,"r2":18,"v":0.1},{"c1":20,"c2":22,"r1":3,"r2":5,"v":0.1},{"c1":20,"c2":21,"r1":5,"r2":14,"v":0.1},{"c1":23,"c2":25,"r1":3,"r2":5,"v":0.1},{"c1":23,"c2":25,"r1":7,"r2":8,"v":0.1},{"c1":21,"c2":25,"r1":12,"r2":13,"v":0.1},{"c1":20,"c2":22,"r1":15,"r2":16,"v":0.1},{"c1":23,"c2":25,"r1":15,"r2":16,"v":0.1},{"c1":20,"c2":21,"r1":13,"r2":17,"v":0.1},{"c1":20,"c2":21,"r1":19,"r2":23,"v":0.1},
{"c1":4,"c2":25,"r1":20,"r2":21,"v":0.1},{"c1":6,"c2":10,"r1":20,"r2":21,"v":0.14},{"c1":7,"c2":8,"r1":20,"r2":21,"v":0.3},{"c1":15,"c2":16,"r1":20,"r2":21,"v":0.2},{"c1":17,"c2":18,"r1":20,"r2":21,"v":0.2},{"c1":20,"c2":25,"r1":20,"r2":21,"v":0.2},{"c1":20,"c2":25,"r1":21,"r2":22,"v":0.1},
{"c1":0,"c2":2,"r1":20,"r2":21,"v":0.45},{"c1":2,"c2":4,"r1":20,"r2":21,"v":0.25},{"c1":0,"c2":1,"r1":21,"r2":22,"v":0.3},{"c1":1,"c2":2,"r1":21,"r2":22,"v":0.4},{"c1":2,"c2":4,"r1":21,"r2":22,"v":0.2},{"c1":0,"c2":1,"r1":22,"r2":23,"v":0.2},{"c1":1,"c2":2,"r1":22,"r2":23,"v":0.3},{"c1":2,"c2":3,"r1":22,"r2":23,"v":0.1},{"c1":3,"c2":4,"r1":22,"r2":23,"v":0.12},{"c1":0,"c2":2,"r1":23,"r2":24,"v":0.3},{"c1":2,"c2":4,"r1":23,"r2":24,"v":0.4},
{"c1":46,"c2":48,"r1":3,"r2":24,"v":0.33},{"c1":47,"c2":48,"r1":8,"r2":9,"v":0.1},{"c1":46,"c2":47,"r1":13,"r2":14,"v":0.12},{"c1":46,"c2":48,"r1":17,"r2":18,"v":0.5},{"c1":46,"c2":47,"r1":19,"r2":20,"v":0.15},{"c1":46,"c2":47,"r1":22,"r2":23,"v":0.5},{"c1":47,"c2":48,"r1":22,"r2":23,"v":0.55},{"c1":48,"c2":49,"r1":22,"r2":24,"v":0.1},{"c1":46,"c2":47,"r1":23,"r2":24,"v":0.55},{"c1":47,"c2":48,"r1":23,"r2":24,"v":0.4},
{"c1":46,"c2":47,"r1":0,"r2":1,"v":0.75},{"c1":47,"c2":48,"r1":0,"r2":1,"v":0.85},{"c1":48,"c2":49,"r1":0,"r2":1,"v":1},{"c1":46,"c2":47,"r1":1,"r2":2,"v":0.8},{"c1":47,"c2":48,"r1":1,"r2":2,"v":1},{"c1":48,"c2":49,"r1":1,"r2":2,"v":0.85},{"c1":46,"c2":47,"r1":2,"r2":3,"v":1},{"c1":47,"c2":49,"r1":2,"r2":3,"v":0.8},
{"c1":25,"c2":27,"r1":0,"r2":1,"v":0.12},{"c1":25,"c2":26,"r1":1,"r2":2,"v":0.4},{"c1":26,"c2":27,"r1":1,"r2":2,"v":0.5},{"c1":27,"c2":31,"r1":1,"r2":2,"v":0.3},{"c1":31,"c2":32,"r1":1,"r2":2,"v":0.42},{"c1":32,"c2":46,"r1":1,"r2":2,"v":0.3},{"c1":42,"c2":43,"r1":1,"r2":2,"v":0.15},
{"c1":25,"c2":26,"r1":2,"r2":3,"v":0.5},{"c1":26,"c2":27,"r1":2,"r2":3,"v":0.3},{"c1":27,"c2":46,"r1":2,"r2":3,"v":0.3},{"c1":30,"c2":31,"r1":2,"r2":3,"v":0.15},{"c1":31,"c2":33,"r1":2,"r2":3,"v":0.42},{"c1":36,"c2":37,"r1":2,"r2":3,"v":0.15},
{"c1":2,"c2":3,"r1":0,"r2":1,"v":0.1},{"c1":1,"c2":2,"r1":1,"r2":2,"v":0.1},{"c1":2,"c2":3,"r1":1,"r2":2,"v":0.2},{"c1":0,"c2":2,"r1":2,"r2":3,"v":0.1},{"c1":2,"c2":3,"r1":2,"r2":3,"v":0.2},{"c1":3,"c2":4,"r1":2,"r2":3,"v":0.1},
{"c1":27,"c2":29,"r1":24,"r2":28,"v":0.1},{"c1":28,"c2":29,"r1":24,"r2":45,"v":0.15},{"c1":32,"c2":33,"r1":24,"r2":26,"v":0.1},{"c1":35,"c2":37,"r1":24,"r2":26,"v":0.1},{"c1":36,"c2":37,"r1":24,"r2":29,"v":0.1},{"c1":41,"c2":42,"r1":24,"r2":26,"v":0.1},{"c1":44,"c2":46,"r1":24,"r2":26,"v":0.1},{"c1":44,"c2":46,"r1":27,"r2":28,"v":0.1},{"c1":26,"c2":30,"r1":28,"r2":29,"v":0.1},{"c1":32,"c2":34,"r1":27,"r2":29,"v":0.1},{"c1":35,"c2":46,"r1":28,"r2":29,"v":0.1},{"c1":28,"c2":29,"r1":31,"r2":32,"v":0.25},{"c1":28,"c2":29,"r1":33,"r2":34,"v":0.25},
{"c1":27,"c2":31,"r1":39,"r2":40,"v":0.1},{"c1":32,"c2":33,"r1":39,"r2":40,"v":0.1},{"c1":35,"c2":42,"r1":39,"r2":40,"v":0.1},{"c1":43,"c2":46,"r1":39,"r2":40,"v":0.1},{"c1":26,"c2":46,"r1":40,"r2":43,"v":0.1},{"c1":28,"c2":29,"r1":39,"r2":43,"v":0.2},{"c1":28,"c2":29,"r1":41,"r2":42,"v":0.3},
{"c1":25,"c2":26,"r1":45,"r2":46,"v":0.3},{"c1":26,"c2":27,"r1":45,"r2":46,"v":0.12},{"c1":27,"c2":46,"r1":45,"r2":46,"v":0.2},{"c1":33,"c2":34,"r1":45,"r2":46,"v":0.1},{"c1":46,"c2":47,"r1":45,"r2":46,"v":0.1},
{"c1":25,"c2":26,"r1":46,"r2":47,"v":0.3},{"c1":26,"c2":46,"r1":46,"r2":47,"v":0.2},{"c1":46,"c2":49,"r1":46,"r2":47,"v":0.1},
{"c1":25,"c2":26,"r1":47,"r2":49,"v":0.3},{"c1":26,"c2":27,"r1":47,"r2":49,"v":0.35},{"c1":27,"c2":28,"r1":47,"r2":49,"v":0.45},{"c1":28,"c2":29,"r1":47,"r2":49,"v":0.55},{"c1":29,"c2":30,"r1":47,"r2":49,"v":0.35},{"c1":30,"c2":32,"r1":47,"r2":49,"v":0.3},{"c1":32,"c2":34,"r1":47,"r2":49,"v":0.45},{"c1":34,"c2":35,"r1":47,"r2":49,"v":0.3},{"c1":35,"c2":42,"r1":47,"r2":49,"v":0.45},{"c1":42,"c2":43,"r1":47,"r2":49,"v":0.3},{"c1":43,"c2":46,"r1":47,"r2":49,"v":0.45},{"c1":46,"c2":48,"r1":47,"r2":49,"v":0.1}
],
"treeA":[
{"p1":2.9,"h1":99.4,"p2":37.1,"h2":99.4},{"p1":2.9,"h1":99.4,"p2":2.9,"h2":41.6},{"p1":37.1,"h1":99.4,"p2":37.1,"h2":85.8},{"p1":26.9,"h1":85.8,"p2":47.3,"h2":85.8},{"p1":26.9,"h1":85.8,"p2":26.9,"h2":18.1},{"p1":47.3,"h1":85.8,"p2":47.3,"h2":34.6},{"p1":46.6,"h1":34.6,"p2":48.1,"h2":34.6},{"p1":46.6,"h1":34.6,"p2":46.6,"h2":1.5},{"p1":48.1,"h1":34.6,"p2":48.1,"h2":27.7},{"p1":47.5,"h1":27.7,"p2":48.5,"h2":27.7},{"p1":47.5,"h1":27.7,"p2":47.5,"h2":1.5},{"p1":48.5,"h1":27.7,"p2":48.5,"h2":1.5},{"p1":25.5,"h1":18.1,"p2":28.3,"h2":18.1},{"p1":25.5,"h1":18.1,"p2":25.5,"h2":1.5},{"p1":28.3,"h1":18.1,"p2":28.3,"h2":12},{"p1":26.5,"h1":12,"p2":30.1,"h2":12},{"p1":26.5,"h1":12,"p2":26.5,"h2":1.5},{"p1":30.1,"h1":12,"p2":30.1,"h2":8.1},{"p1":28,"h1":8.1,"p2":32,"h2":8.1},{"p1":28,"h1":8.1,"p2":28,"h2":1.5},{"p1":32,"h1":8.1,"p2":32,"h2":3.6},{"p1":30,"h1":3.6,"p2":33.7,"h2":3.6},{"p1":30,"h1":3.6,"p2":30,"h2":1.5},{"p1":27.5,"h1":1.5,"p2":28.5,"h2":1.5},{"p1":32,"h1":2,"p2":35.4,"h2":2},{"p1":33.7,"h1":1.5,"p2":45.5,"h2":1.5},
{"p1":1,"h1":41.6,"p2":4.6,"h2":41.6},{"p1":1,"h1":41.6,"p2":1,"h2":2.4},{"p1":0.5,"h1":2.4,"p2":1.6,"h2":2.4},{"p1":4.6,"h1":41.6,"p2":4.6,"h2":39.2},{"p1":3,"h1":39.2,"p2":6.1,"h2":39.2},{"p1":3,"h1":39.2,"p2":3,"h2":11.1},{"p1":2.4,"h1":11.1,"p2":3.6,"h2":11.1},{"p1":2.4,"h1":11.1,"p2":2.4,"h2":1.5},{"p1":3.6,"h1":11.1,"p2":3.6,"h2":1.5},{"p1":6.1,"h1":39.2,"p2":6.1,"h2":21.1},{"p1":4.6,"h1":21.1,"p2":7.7,"h2":21.1},{"p1":4.6,"h1":21.1,"p2":4.6,"h2":1.5},{"p1":7.7,"h1":21.1,"p2":7.7,"h2":12},{"p1":5.6,"h1":12,"p2":9.7,"h2":12},{"p1":5.6,"h1":12,"p2":5.6,"h2":1.5},{"p1":9.7,"h1":12,"p2":9.7,"h2":8.1},{"p1":6.6,"h1":8.1,"p2":13,"h2":8.1},{"p1":6.6,"h1":8.1,"p2":6.6,"h2":1.5},{"p1":13,"h1":8.1,"p2":13,"h2":5.4},{"p1":8.3,"h1":5.4,"p2":17.6,"h2":5.4},{"p1":8.3,"h1":5.4,"p2":8.3,"h2":1.5},{"p1":17.6,"h1":5.4,"p2":17.6,"h2":3.6},{"p1":13,"h1":3.6,"p2":23.3,"h2":3.6},{"p1":7.5,"h1":1.5,"p2":9.5,"h2":1.5},{"p1":10.5,"h1":1.5,"p2":19.6,"h2":1.5},{"p1":20.6,"h1":1.5,"p2":24.6,"h2":1.5}
],
"treeCol":[
{"p1":2.89,"h1":100,"p2":37.48,"h2":100},{"p1":2.89,"h1":100,"p2":2.89,"h2":44.1},{"p1":37.48,"h1":100,"p2":37.48,"h2":87.8},{"p1":27.3,"h1":87.8,"p2":47.66,"h2":87.8},{"p1":27.3,"h1":87.8,"p2":27.3,"h2":20.8},{"p1":47.66,"h1":87.8,"p2":47.66,"h2":35.8},{"p1":46.96,"h1":35.8,"p2":48.43,"h2":35.8},{"p1":46.96,"h1":35.8,"p2":46.96,"h2":0},{"p1":48.43,"h1":35.8,"p2":48.43,"h2":28.8},{"p1":47.9,"h1":28.8,"p2":48.96,"h2":28.8},{"p1":47.9,"h1":28.8,"p2":47.9,"h2":0},{"p1":48.96,"h1":28.8,"p2":48.96,"h2":0},
{"p1":25.96,"h1":20.8,"p2":28.63,"h2":20.8},{"p1":25.96,"h1":20.8,"p2":25.96,"h2":0},{"p1":28.63,"h1":20.8,"p2":28.63,"h2":12.2},{"p1":27.01,"h1":12.2,"p2":30.39,"h2":12.2},{"p1":27.01,"h1":12.2,"p2":27.01,"h2":0},{"p1":30.39,"h1":12.2,"p2":30.39,"h2":9.4},{"p1":28.52,"h1":9.4,"p2":32.21,"h2":9.4},{"p1":28.52,"h1":9.4,"p2":28.52,"h2":2.4},{"p1":27.93,"h1":2.4,"p2":28.98,"h2":2.4},{"p1":32.21,"h1":9.4,"p2":32.21,"h2":5.2},{"p1":30.98,"h1":5.2,"p2":34.85,"h2":5.2},{"p1":30.98,"h1":5.2,"p2":30.98,"h2":2.4},{"p1":29.93,"h1":2.4,"p2":31.86,"h2":2.4},{"p1":34.85,"h1":5.2,"p2":34.85,"h2":3.5},{"p1":33.09,"h1":3.5,"p2":35.72,"h2":3.5},{"p1":33.97,"h1":1.7,"p2":45.9,"h2":1.7},
{"p1":1.14,"h1":44.1,"p2":4.65,"h2":44.1},{"p1":1.14,"h1":44.1,"p2":1.14,"h2":5.2},{"p1":0.54,"h1":5.2,"p2":1.59,"h2":5.2},{"p1":4.65,"h1":44.1,"p2":4.65,"h2":41.7},{"p1":3.07,"h1":41.7,"p2":6.05,"h2":41.7},{"p1":3.07,"h1":41.7,"p2":3.07,"h2":12.8},{"p1":2.58,"h1":12.8,"p2":3.56,"h2":12.8},{"p1":2.58,"h1":12.8,"p2":2.58,"h2":0},{"p1":3.56,"h1":12.8,"p2":3.56,"h2":0},{"p1":6.05,"h1":41.7,"p2":6.05,"h2":23.3},{"p1":4.65,"h1":23.3,"p2":7.63,"h2":23.3},{"p1":4.65,"h1":23.3,"p2":4.65,"h2":0},{"p1":7.63,"h1":23.3,"p2":7.63,"h2":12.8},{"p1":5.63,"h1":12.8,"p2":9.81,"h2":12.8},{"p1":5.63,"h1":12.8,"p2":5.63,"h2":0},{"p1":9.81,"h1":12.8,"p2":9.81,"h2":10.4},{"p1":6.58,"h1":10.4,"p2":13,"h2":10.4},{"p1":6.58,"h1":10.4,"p2":6.58,"h2":0},{"p1":13,"h1":10.4,"p2":13,"h2":8},{"p1":8.33,"h1":8,"p2":17.64,"h2":8},{"p1":8.33,"h1":8,"p2":8.33,"h2":3.5},{"p1":7.46,"h1":2.4,"p2":9.56,"h2":2.4},{"p1":17.64,"h1":8,"p2":17.64,"h2":5.2},{"p1":13,"h1":5.2,"p2":19.57,"h2":5.2},{"p1":10.62,"h1":2.4,"p2":12.9,"h2":2.4},{"p1":19.57,"h1":5.2,"p2":19.57,"h2":3.5},{"p1":17.64,"h1":3.5,"p2":22.73,"h2":3.5},{"p1":20.62,"h1":3.1,"p2":23.43,"h2":3.1},{"p1":22.56,"h1":1.7,"p2":24.59,"h2":1.7}
],
"treeRow":[
{"p1":2.52,"h1":100,"p2":8.9,"h2":100},{"p1":2.52,"h1":100,"p2":2.52,"h2":71},{"p1":8.9,"h1":100,"p2":8.9,"h2":67.1},{"p1":1,"h1":71,"p2":4.02,"h2":71},{"p1":1,"h1":71,"p2":1,"h2":41.6},{"p1":0.5,"h1":41.6,"p2":1.5,"h2":41.6},{"p1":0.5,"h1":41.6,"p2":0.5,"h2":0},{"p1":1.5,"h1":41.6,"p2":1.5,"h2":0},{"p1":4.02,"h1":71,"p2":4.02,"h2":52.3},{"p1":3,"h1":52.3,"p2":5,"h2":52.3},{"p1":3,"h1":52.3,"p2":3,"h2":47},{"p1":2.5,"h1":47,"p2":3.5,"h2":47},{"p1":2.5,"h1":47,"p2":2.5,"h2":0},{"p1":3.5,"h1":47,"p2":3.5,"h2":0},{"p1":5,"h1":52.3,"p2":5,"h2":51.1},{"p1":4.5,"h1":51.1,"p2":5.5,"h2":51.1},{"p1":4.5,"h1":51.1,"p2":4.5,"h2":0},{"p1":5.5,"h1":51.1,"p2":5.5,"h2":0},
{"p1":7,"h1":67.1,"p2":10.8,"h2":67.1},{"p1":7,"h1":67.1,"p2":7,"h2":52.3},{"p1":6.5,"h1":52.3,"p2":7.5,"h2":52.3},{"p1":6.5,"h1":52.3,"p2":6.5,"h2":0},{"p1":7.5,"h1":52.3,"p2":7.5,"h2":0},{"p1":10.8,"h1":67.1,"p2":10.8,"h2":58.9},{"p1":9,"h1":58.9,"p2":12.66,"h2":58.9},{"p1":9,"h1":58.9,"p2":9,"h2":42.9},{"p1":8.5,"h1":42.9,"p2":9.5,"h2":42.9},{"p1":8.5,"h1":42.9,"p2":8.5,"h2":0},{"p1":9.5,"h1":42.9,"p2":9.5,"h2":0},{"p1":12.66,"h1":58.9,"p2":12.66,"h2":47},{"p1":11.77,"h1":47,"p2":13.5,"h2":47},{"p1":13.5,"h1":47,"p2":13.5,"h2":0},{"p1":11.77,"h1":47,"p2":11.77,"h2":41.6},{"p1":11,"h1":41.6,"p2":12.5,"h2":41.6},{"p1":12.5,"h1":41.6,"p2":12.5,"h2":0},{"p1":11,"h1":41.6,"p2":11,"h2":35},{"p1":10.5,"h1":35,"p2":11.5,"h2":35},{"p1":10.5,"h1":35,"p2":10.5,"h2":0},{"p1":11.5,"h1":35,"p2":11.5,"h2":0}
]
},
"layer":[
{"data":{"values":[{"label":"A"},{"label":"B"}]},"mark":{"type":"text","fontSize":131,"color":"black"},"encoding":{"x":{"field":"label","type":"nominal","axis":null,"scale":{"type":"point","domain":["A","B"],"range":[68,1024],"padding":0}},"y":{"datum":"t","type":"nominal","axis":null,"scale":{"domain":["t"],"range":[30,130]}},"text":{"field":"label"}}},
{"data":{"values":[{"label":"consensus matrix k = 3"}]},"mark":{"type":"text","fontSize":46.5,"fontWeight":"bold","color":"black"},"encoding":{"x":{"field":"label","type":"nominal","axis":null,"scale":{"range":[228,836]}},"y":{"field":"label","type":"nominal","axis":null,"scale":{"range":[102,150]}},"text":{"field":"label"}}},
{"data":{"name":"treeA"},"mark":{"type":"rule","color":"#222222","strokeWidth":2},"encoding":{"x":{"field":"p1","type":"quantitative","axis":null,"scale":{"domain":[0,49],"range":[228,842],"nice":false,"zero":false}},"x2":{"field":"p2"},"y":{"field":"h1","type":"quantitative","axis":null,"scale":{"domain":[0,100],"range":[353,171],"nice":false,"zero":false}},"y2":{"field":"h2"}}},
{"data":{"values":[{"k":"1","c1":0,"c2":25},{"k":"2","c1":25,"c2":46},{"k":"3","c1":46,"c2":49}]},"mark":{"type":"rect","strokeWidth":0},"encoding":{"x":{"field":"c1","type":"quantitative","axis":null,"scale":{"domain":[0,49],"range":[228,842],"nice":false,"zero":false}},"x2":{"field":"c2"},"y":{"datum":"strip","type":"nominal","axis":null,"scale":{"domain":["strip"],"range":[357,384]}},"color":{"field":"k","type":"nominal","legend":null,"scale":{"domain":["1","2","3"],"range":["#a6cee3","#b2df8a","#1f78b4"]}}}},
{"data":{"name":"matrix"},"mark":{"type":"rect","strokeWidth":0},"encoding":{"x":{"field":"c1","type":"quantitative","axis":null,"scale":{"domain":[0,49],"range":[228,842],"nice":false,"zero":false}},"x2":{"field":"c2"},"y":{"field":"r1","type":"quantitative","axis":null,"scale":{"domain":[0,49],"range":[406,1007],"nice":false,"zero":false}},"y2":{"field":"r2"},"color":{"field":"v","type":"quantitative","legend":null,"scale":{"domain":[0,1],"range":["#ffffff","#0000ff"],"interpolate":"rgb"}}}},
{"data":{"name":"treeCol"},"mark":{"type":"rule","color":"#222222","strokeWidth":2},"encoding":{"x":{"field":"p1","type":"quantitative","axis":null,"scale":{"domain":[0,49.4],"range":[1438,2694],"nice":false,"zero":false}},"x2":{"field":"p2"},"y":{"field":"h1","type":"quantitative","axis":null,"scale":{"domain":[0,100],"range":[278,182],"nice":false,"zero":false}},"y2":{"field":"h2"}}},
{"data":{"name":"treeRow"},"mark":{"type":"rule","color":"#222222","strokeWidth":2},"encoding":{"x":{"field":"h1","type":"quantitative","axis":null,"scale":{"domain":[0,100],"range":[1436,1249],"nice":false,"zero":false}},"x2":{"field":"h2"},"y":{"field":"p1","type":"quantitative","axis":null,"scale":{"domain":[0,14],"range":[392,1568],"nice":false,"zero":false}},"y2":{"field":"p2"}}},
{"data":{"name":"samples"},"transform":[{"filter":"datum.c<=25"}],"mark":{"type":"rect","strokeWidth":0,"width":{"band":1.04}},"encoding":{"x":{"field":"c","type":"ordinal","axis":null,"scale":{"range":[1438,2074],"paddingInner":0,"paddingOuter":0}},"y":{"datum":"Response","type":"nominal","axis":null,"scale":{"domain":["Response"],"range":[280,327]}},"color":{"field":"r","type":"nominal","scale":{"domain":["CR","PR","SD","PD"],"range":["#ff8c00","#87cefa","#90ee90","#eeaeee"]},"legend":{"orient":"none","legendX":1455,"legendY":13,"direction":"horizontal","columns":4,"title":"Response","titleFontSize":55,"titleFontWeight":"bold","titleColor":"black","titleLimit":600,"titlePadding":3,"labelFontSize":46,"labelFontWeight":"bold","labelColor":"black","labelLimit":500,"labelOffset":8,"symbolSize":3364,"symbolType":"square","symbolStrokeWidth":0,"columnPadding":17}}}},
{"data":{"name":"samples"},"transform":[{"filter":"datum.c>25"}],"mark":{"type":"rect","strokeWidth":0,"width":{"band":1.04}},"encoding":{"x":{"field":"c","type":"ordinal","axis":null,"scale":{"range":[2084,2694],"paddingInner":0,"paddingOuter":0}},"y":{"datum":"Response","type":"nominal","axis":null,"scale":{"domain":["Response"],"range":[280,327]}},"color":{"field":"r","type":"nominal","legend":null,"scale":{"domain":["CR","PR","SD","PD"],"range":["#ff8c00","#87cefa","#90ee90","#eeaeee"]}}}},
{"data":{"name":"samples"},"transform":[{"filter":"datum.c<=25"}],"mark":{"type":"rect","strokeWidth":0,"width":{"band":1.04}},"encoding":{"x":{"field":"c","type":"ordinal","axis":null,"scale":{"range":[1438,2074],"paddingInner":0,"paddingOuter":0}},"y":{"datum":"Group","type":"nominal","axis":null,"scale":{"domain":["Group"],"range":[334,381]}},"color":{"field":"s","type":"nominal","scale":{"domain":["Responder","Non-responder"],"range":["#4682b4","#fa8072"]},"legend":{"orient":"none","legendX":2083,"legendY":13,"direction":"horizontal","columns":2,"title":"Group","titleFontSize":55,"titleFontWeight":"bold","titleColor":"black","titleLimit":600,"titlePadding":3,"labelFontSize":45.5,"labelFontWeight":"bold","labelColor":"black","labelLimit":500,"labelOffset":4,"symbolSize":3364,"symbolType":"square","symbolStrokeWidth":0,"columnPadding":10}}}},
{"data":{"name":"samples"},"transform":[{"filter":"datum.c>25"}],"mark":{"type":"rect","strokeWidth":0,"width":{"band":1.04}},"encoding":{"x":{"field":"c","type":"ordinal","axis":null,"scale":{"range":[2084,2694],"paddingInner":0,"paddingOuter":0}},"y":{"datum":"Group","type":"nominal","axis":null,"scale":{"domain":["Group"],"range":[334,381]}},"color":{"field":"s","type":"nominal","legend":null,"scale":{"domain":["Responder","Non-responder"],"range":["#4682b4","#fa8072"]}}}},
{"data":{"name":"heat"},"transform":[{"filter":"datum.c<=25"}],"mark":{"type":"rect","strokeWidth":0,"width":{"band":1.04}},"encoding":{"x":{"field":"c","type":"ordinal","axis":null,"scale":{"range":[1438,2074],"paddingInner":0,"paddingOuter":0}},"y":{"field":"g","type":"nominal","axis":{"orient":"right","offset":-438,"title":null,"domain":false,"ticks":false,"labelPadding":7,"labelOffset":5,"labelFontSize":40,"labelColor":"#333333","labelLimit":400},"scale":{"domain":["IL9R","MYO1A","ZSCAN10","MUC20","ELOVL2","VIT","CDKN3","MKRN3","GLTPD2","RP11-512M8.5","ADAMTS2","RETN","DEFA1B","EFCAB2"],"range":[392,1568],"paddingInner":0,"paddingOuter":0}},"color":{"field":"z","type":"quantitative","scale":{"domain":[-2.06,-2,-1,0,1,2,2.06],"range":["#00ff00","#00ff00","#26821a","#000000","#82180c","#ff0000","#ff0000"],"interpolate":"rgb"},"legend":{"orient":"none","legendX":2764,"legendY":1592,"direction":"horizontal","title":"Z score","titleAnchor":"middle","titleFontSize":50,"titleFontWeight":"bold","titleColor":"black","titlePadding":2,"gradientLength":339,"gradientThickness":29,"gradientStrokeWidth":0,"values":[-2,0,2],"labelExpr":"'' + datum.value","labelFontSize":38,"labelFontWeight":"bold","labelColor":"black","labelOffset":6}}}},
{"data":{"name":"heat"},"transform":[{"filter":"datum.c>25"}],"mark":{"type":"rect","strokeWidth":0,"width":{"band":1.04}},"encoding":{"x":{"field":"c","type":"ordinal","axis":null,"scale":{"range":[2084,2694],"paddingInner":0,"paddingOuter":0}},"y":{"field":"g","type":"nominal","axis":null,"scale":{"domain":["IL9R","MYO1A","ZSCAN10","MUC20","ELOVL2","VIT","CDKN3","MKRN3","GLTPD2","RP11-512M8.5","ADAMTS2","RETN","DEFA1B","EFCAB2"],"range":[392,1568],"paddingInner":0,"paddingOuter":0}},"color":{"field":"z","type":"quantitative","legend":null,"scale":{"domain":[-2.06,-2,-1,0,1,2,2.06],"range":["#00ff00","#00ff00","#26821a","#000000","#82180c","#ff0000","#ff0000"],"interpolate":"rgb"}}}},
{"data":{"values":[{"cluster":"Cluster 2","c1":0,"c2":25.15},{"cluster":"Cluster 1","c1":25.35,"c2":49.55}]},"mark":{"type":"rect","strokeWidth":0},"encoding":{"x":{"field":"c1","type":"quantitative","axis":null,"scale":{"domain":[0,49.4],"range":[1438,2694],"nice":false,"zero":false}},"x2":{"field":"c2"},"y":{"datum":"bar","type":"nominal","axis":null,"scale":{"domain":["bar"],"range":[1588,1702]}},"color":{"field":"cluster","type":"nominal","legend":null,"scale":{"domain":["Cluster 2","Cluster 1"],"range":["#f4a9a8","#9dc3e6"]}}}},
{"data":{"values":[{"cluster":"Cluster 2"},{"cluster":"Cluster 1"}]},"mark":{"type":"text","fontSize":66,"fontWeight":"bold","color":"black"},"encoding":{"x":{"field":"cluster","type":"nominal","axis":null,"sort":null,"scale":{"domain":["Cluster 2","Cluster 1"],"range":[1443,2703]}},"y":{"datum":"bar","type":"nominal","axis":null,"scale":{"domain":["bar"],"range":[1590,1704]}},"text":{"field":"cluster"}}},
{"data":{"values":[{"rate":"48.0%"},{"rate":"95.8%"}]},"mark":{"type":"text","fontSize":64,"fontWeight":"bold","color":"black"},"encoding":{"x":{"field":"rate","type":"nominal","axis":null,"scale":{"domain":["48.0%","95.8%"],"range":[1483,2689]}},"y":{"datum":"rate","type":"nominal","axis":null,"scale":{"domain":["rate"],"range":[1762,1814]}},"text":{"field":"rate"}}},
{"data":{"values":[{"label":"Response rate"}]},"mark":{"type":"text","fontSize":65.5,"fontWeight":"bold","color":"black"},"encoding":{"x":{"field":"label","type":"nominal","axis":null,"scale":{"range":[930,1380]}},"y":{"datum":"rate","type":"nominal","axis":null,"scale":{"domain":["rate"],"range":[1762,1814]}},"text":{"field":"label"}}},
{"data":{"values":[{"z":-2,"y1":0,"y2":0.2},{"z":-2,"y1":0.8,"y2":1},{"z":0,"y1":0,"y2":0.2},{"z":0,"y1":0.8,"y2":1},{"z":2,"y1":0,"y2":0.2},{"z":2,"y1":0.8,"y2":1}]},"mark":{"type":"rule","color":"white","strokeWidth":2},"encoding":{"x":{"field":"z","type":"quantitative","axis":null,"scale":{"domain":[-2.06,2.06],"range":[2764,3103],"nice":false,"zero":false}},"y":{"field":"y1","type":"quantitative","axis":null,"scale":{"domain":[0,1],"range":[1648,1677],"nice":false,"zero":false}},"y2":{"field":"y2"}}}
],
"resolve":{"scale":{"x":"independent","y":"independent","color":"independent"}}}
